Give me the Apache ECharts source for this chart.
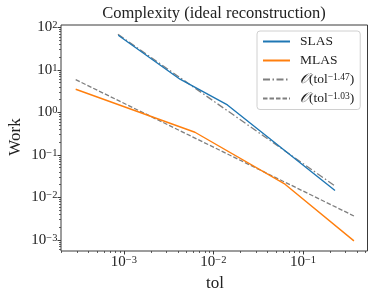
<!DOCTYPE html>
<html>
<head>
<meta charset="utf-8">
<script src="https://cdn.jsdelivr.net/npm/echarts@6/dist/echarts.min.js"></script>
<style>html,body{margin:0;padding:0;background:#fff;}#c{width:374px;height:299px;}</style>
</head>
<body>
<div id="c"></div>
<script>
// ---- data ----
const slasTol  = [8.63e-4, 4.23e-3, 0.01432, 0.228];
const slasWork = [65.5, 6.04, 1.50, 0.0146];
const mlasTol  = [2.89e-4, 6.21e-3, 0.0630, 0.371];
const mlasWork = [3.51, 0.342, 0.0205, 9.5e-4];
const rate147Tol  = [8.57e-4, 0.228];
const rate147Work = [69, 0.0187];
const rate103Tol  = [2.89e-4, 0.371];
const rate103Work = [5.91, 3.67e-3];
const xMajorTicks = [1e-3, 1e-2, 1e-1];
const yMajorTicks = [1e-3, 1e-2, 1e-1, 1, 10, 100];
const seriesNames = ['SLAS', 'MLAS', 'rate147', 'rate103'];
const legendLabels = {
  SLAS: 'SLAS',
  MLAS: 'MLAS',
  rate147: '{cal|𝒪}(tol{sup|−1.47})',
  rate103: '{cal|𝒪}(tol{sup|−1.03})'
};

const xMin = 1.98e-4, xMax = 0.526, yMin = 5.5e-4, yMax = 114;

function minorTicks(lo, hi) {
  const out = [];
  for (let e = -5; e <= 3; e++) {
    for (let m = 2; m <= 9; m++) {
      const v = m * Math.pow(10, e);
      if (v >= lo && v <= hi) out.push(v);
    }
  }
  return out;
}
const pair = (xs, ys) => xs.map((x, i) => [x, ys[i]]);

const FONT = '"Liberation Serif", "DejaVu Serif", serif';
const FRAME = '#3a3a3a';
const supFmt = v => {
  const e = Math.round(Math.log10(v));
  return '10{sup|' + String(e).replace('-', '−') + '}';
};
const labelRich = {
  sup: { fontSize: 10.5, fontFamily: FONT, color: '#222', verticalAlign: 'top', lineHeight: 10 }
};

const chart = echarts.init(document.getElementById('c'), null, { renderer: 'canvas' });
const option = {
  animation: false,
  backgroundColor: '#fff',
  grid: { left: 61, right: 6.5, top: 25, bottom: 48, show: true, borderColor: FRAME, borderWidth: 1, backgroundColor: 'transparent' },
  graphic: [
    { type: 'text', x: 214, y: 13.5, style: { text: 'Complexity (ideal reconstruction)', font: '16.5px ' + FONT, fill: '#222', textAlign: 'center', textVerticalAlign: 'middle' } },
    { type: 'text', x: 215, y: 284, style: { text: 'tol', font: '17px ' + FONT, fill: '#222', textAlign: 'center', textVerticalAlign: 'middle' } },
    { type: 'text', x: 16, y: 137, rotation: Math.PI / 2, style: { text: 'Work', font: '17px ' + FONT, fill: '#222', textAlign: 'center', textVerticalAlign: 'middle' } }
  ],
  xAxis: [
    { type: 'log', logBase: 10, min: xMin, max: xMax, gridIndex: 0,
      axisLine: { show: false }, splitLine: { show: false },
      axisTick: { show: true, length: 3.5, customValues: xMajorTicks, lineStyle: { color: FRAME, width: 1 } },
      axisLabel: { customValues: xMajorTicks, formatter: supFmt, margin: 4, fontSize: 15, fontFamily: FONT, color: '#222', rich: labelRich } },
    { type: 'log', logBase: 10, min: xMin, max: xMax, gridIndex: 0, position: 'bottom',
      axisLine: { show: false }, splitLine: { show: false }, axisLabel: { show: false },
      axisTick: { show: true, length: 2, customValues: minorTicks(xMin, xMax), lineStyle: { color: FRAME, width: 0.8 } } }
  ],
  yAxis: [
    { type: 'log', logBase: 10, min: yMin, max: yMax, gridIndex: 0,
      axisLine: { show: false }, splitLine: { show: false },
      axisTick: { show: true, length: 3.5, customValues: yMajorTicks, lineStyle: { color: FRAME, width: 1 } },
      axisLabel: { customValues: yMajorTicks, formatter: supFmt, margin: 3.5, fontSize: 15, fontFamily: FONT, color: '#222', rich: labelRich } },
    { type: 'log', logBase: 10, min: yMin, max: yMax, gridIndex: 0, position: 'left',
      axisLine: { show: false }, splitLine: { show: false }, axisLabel: { show: false },
      axisTick: { show: true, length: 2, customValues: minorTicks(yMin, yMax), lineStyle: { color: FRAME, width: 0.8 } } }
  ],
  legend: {
    orient: 'vertical', left: 257, top: 31,
    padding: [3.5, 6, 4, 5], itemGap: 5, itemWidth: 27, itemHeight: 12,
    backgroundColor: 'rgba(255,255,255,0.85)', borderColor: '#d0d0d0', borderWidth: 1, borderRadius: 3,
    data: seriesNames,
    itemStyle: { opacity: 0 },
    formatter: n => legendLabels[n],
    textStyle: { fontFamily: FONT, fontSize: 13.5, color: '#222', lineHeight: 14, padding: [0, 0, 0, 5],
      rich: { sup: { fontSize: 9.5, fontFamily: FONT, color: '#222', verticalAlign: 'top', lineHeight: 9 },
              cal: { fontSize: 14, fontFamily: 'DejaVu Sans, serif', fontStyle: 'italic', color: '#222', lineHeight: 14 } } }
  },
  series: [
    { name: 'SLAS', type: 'line', data: pair(slasTol, slasWork), symbol: 'none', showSymbol: false,
      lineStyle: { color: '#1f77b4', width: 1.4 }, itemStyle: { color: '#1f77b4' }, z: 3 },
    { name: 'MLAS', type: 'line', data: pair(mlasTol, mlasWork), symbol: 'none', showSymbol: false,
      lineStyle: { color: '#ff7f0e', width: 1.4 }, itemStyle: { color: '#ff7f0e' }, z: 3 },
    { name: 'rate147', type: 'line', data: pair(rate147Tol, rate147Work), symbol: 'none', showSymbol: false,
      lineStyle: { color: '#7f7f7f', width: 1.3, type: [7, 2.5, 1.5, 2.5] }, itemStyle: { color: '#7f7f7f' }, z: 2 },
    { name: 'rate103', type: 'line', data: pair(rate103Tol, rate103Work), symbol: 'none', showSymbol: false,
      lineStyle: { color: '#7f7f7f', width: 1.3, type: [4.5, 2] }, itemStyle: { color: '#7f7f7f' }, z: 2 }
  ]
};
chart.setOption(option);
</script>
</body>
</html>
